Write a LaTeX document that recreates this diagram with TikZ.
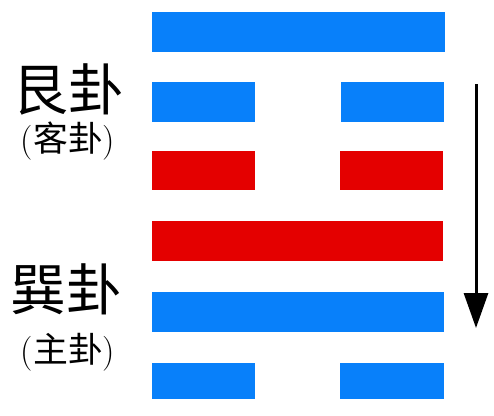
\documentclass[tikz,border=0pt]{standalone}
\usepackage{fontspec}
\newfontfamily\cjk{Noto Sans CJK TC}
\usetikzlibrary{arrows.meta}
\definecolor{yangblue}{RGB}{8,128,250}
\definecolor{yinred}{RGB}{228,0,0}
\tikzset{
  bluebar/.style={fill=yangblue,draw=none},
  redbar/.style={fill=yinred,draw=none},
  bigname/.style={inner sep=0pt,font=\cjk\fontsize{56}{56}\selectfont},
  subname/.style={inner sep=0pt,font=\fontsize{35}{35}\selectfont},
  flow/.style={line width=3bp,-{Triangle[width=24bp,length=35bp]}}
}
\begin{document}
\begin{tikzpicture}[x=1bp,y=-1bp]
\useasboundingbox (0,0) rectangle (494,415);
% line 1 (top): yang, blue
\fill[bluebar] (152,12) rectangle (445,52);
% line 2: yin, blue
\fill[bluebar] (152,82) rectangle (255,122);
\fill[bluebar] (341,82) rectangle (444,122);
% line 3: yin, red
\fill[redbar] (152,151) rectangle (255,190);
\fill[redbar] (340,151) rectangle (443,190);
% line 4: yang, red
\fill[redbar] (152,221) rectangle (443,261);
% line 5: yang, blue
\fill[bluebar] (152,292) rectangle (444,332);
% line 6: yin, blue
\fill[bluebar] (152,363) rectangle (255,399);
\fill[bluebar] (340,363) rectangle (444,399);
% labels
\node[bigname] (gen) at (68,89) {艮卦};
\node[subname] (genSub) at (68,141) {({\cjk 客卦})};
\node[bigname] (xun) at (66,289) {巽卦};
\node[subname] (xunSub) at (68,352) {({\cjk 主卦})};
% arrow
\coordinate (aTop) at (476,84);
\coordinate (aTip) at (476,328);
\draw[flow] (aTop) -- (aTip);
\end{tikzpicture}
\end{document}
